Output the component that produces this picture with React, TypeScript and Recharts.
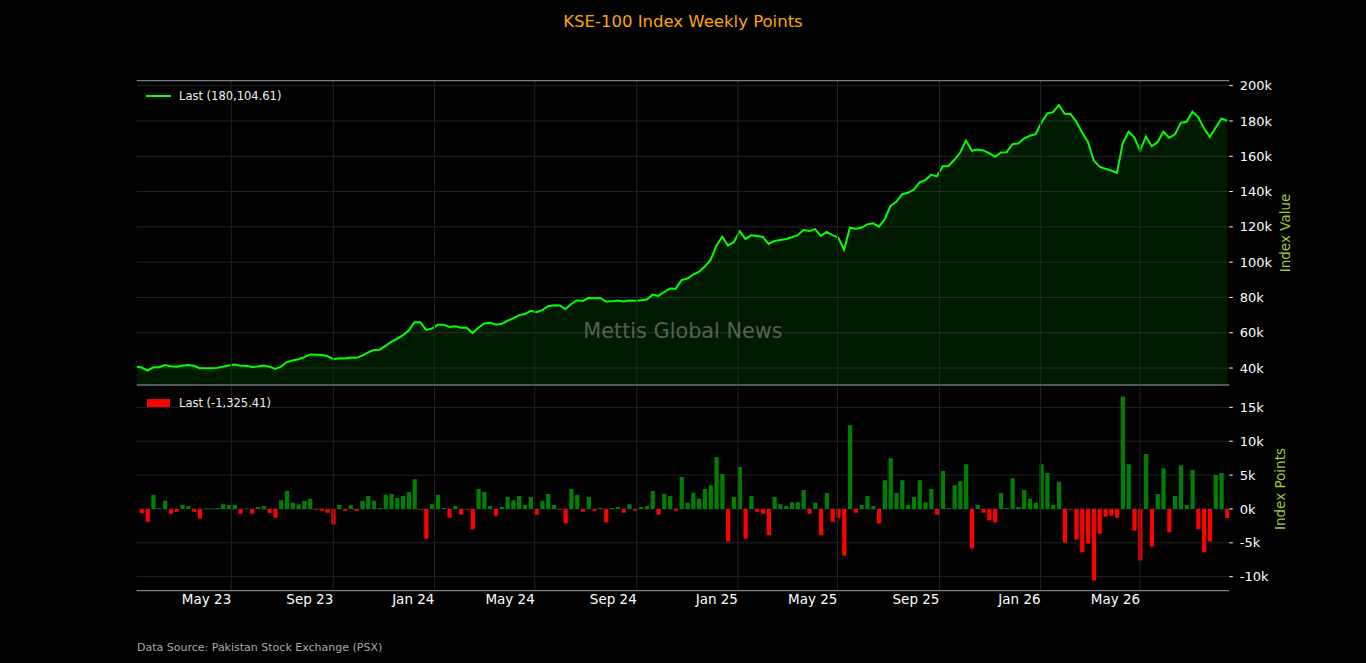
import React from 'react';
import {
  ComposedChart,
  Area,
  Bar,
  Cell,
  XAxis,
  YAxis,
  CartesianGrid,
  ReferenceLine,
} from 'recharts';

// Weekly KSE-100 close (thousands of points), one value per Friday from 6 Jan 2023
const closeK: number[] = [
  40.9, 40.3, 38.5, 40.4, 40.5, 41.7, 41.0, 40.7, 41.3, 41.7,
  41.3, 39.9, 39.9, 39.9, 40.1, 40.8, 41.4, 42.0, 41.3, 41.3,
  40.6, 40.9, 41.4, 40.8, 39.5, 40.8, 43.4, 44.3, 45.0, 46.2,
  47.7, 47.6, 47.4, 46.8, 45.0, 45.6, 45.4, 46.0, 45.8, 47.0,
  48.9, 50.2, 50.4, 52.6, 54.9, 56.6, 58.6, 61.3, 66.0, 65.9,
  61.6, 62.4, 64.5, 64.6, 63.3, 63.7, 62.9, 62.8, 59.8, 62.8,
  65.3, 65.7, 64.7, 65.0, 66.8, 68.1, 70.0, 70.6, 72.4, 71.6,
  72.8, 75.0, 75.6, 75.5, 73.4, 76.3, 78.4, 78.0, 79.8, 79.6,
  79.7, 77.7, 77.9, 78.2, 77.7, 78.3, 78.1, 78.4, 78.8, 81.6,
  80.9, 83.1, 85.1, 85.0, 89.8, 90.7, 93.0, 94.6, 97.5, 101.2,
  109.3, 114.4, 109.5, 111.3, 117.6, 113.2, 115.2, 114.8, 114.3, 110.3,
  112.0, 112.6, 113.1, 114.1, 115.3, 118.2, 117.6, 118.7, 114.9, 117.1,
  115.3, 114.0, 107.0, 119.5, 119.0, 119.6, 121.4, 122.0, 120.1, 124.3,
  131.8, 134.2, 138.5, 139.3, 141.1, 145.2, 146.5, 149.5, 148.6, 154.3,
  154.5, 158.0, 162.1, 168.9, 163.1, 163.8, 163.3, 161.7, 159.7, 162.1,
  162.3, 166.8, 167.2, 170.0, 171.6, 172.5, 179.1, 184.3, 185.0, 189.0,
  184.1, 184.0, 179.6, 173.4, 168.2, 157.7, 154.1, 152.9, 151.9, 150.6,
  167.3, 173.9, 170.7, 163.1, 171.2, 165.7, 167.9, 173.9, 170.5, 172.4,
  178.9, 179.5, 185.2, 182.2, 175.8, 171.0, 176.1, 181.4, 180.10461,
];

// Weekly change (thousands of points), from the second week onwards
const changeK: number[] = [
  -0.65, -1.9, 2.1, 0.1, 1.2, -0.7, -0.4, 0.6, 0.45, -0.4,
  -1.4, 0.05, 0.05, 0.15, 0.7, 0.6, 0.6, -0.7, 0.05, -0.7,
  0.3, 0.45, -0.6, -1.3, 1.3, 2.65, 0.9, 0.7, 1.2, 1.5,
  -0.1, -0.25, -0.55, -2.3, 0.6, -0.25, 0.6, -0.25, 1.2, 1.9,
  1.2, 0.15, 2.1, 2.2, 1.6, 1.9, 2.5, 4.4, -0.1, -4.4,
  0.7, 2.1, 0.15, -1.3, 0.45, -0.85, -0.1, -3.0, 2.95, 2.5,
  0.45, -1.0, 0.3, 1.75, 1.3, 1.9, 0.6, 1.75, -0.85, 1.2,
  2.2, 0.6, -0.1, -2.15, 2.95, 2.1, -0.4, 1.75, -0.25, 0.15,
  -2.0, 0.15, 0.3, -0.55, 0.7, -0.25, 0.3, 0.45, 2.65, -0.85,
  2.2, 1.9, -0.25, 4.7, 0.9, 2.35, 1.5, 2.95, 3.5, 7.65,
  5.15, -4.8, 1.75, 6.2, -4.4, 1.9, -0.4, -0.7, -3.9, 1.75,
  0.7, 0.45, 1.0, 1.0, 2.8, -0.7, 0.9, -3.9, 2.35, -1.9,
  -1.3, -6.9, 12.35, -0.55, 0.6, 1.9, 0.45, -2.15, 4.25, 7.5,
  2.35, 4.25, 0.6, 1.75, 4.25, 1.0, 2.95, -0.85, 5.6, 0.15,
  3.5, 4.1, 6.6, -5.85, 0.6, -0.55, -1.7, -2.0, 2.35, 0.15,
  4.55, 0.3, 2.8, 1.5, 0.9, 6.6, 5.3, 0.6, 4.0, -4.95,
  -0.1, -4.5, -6.4, -5.1, -10.55, -3.65, -1.15, -1.0, -1.3, 16.6,
  6.6, -3.2, -7.6, 8.1, -5.55, 2.2, 6.0, -3.45, 1.9, 6.45,
  0.6, 5.75, -3.0, -6.4, -4.8, 5.0, 5.3, -1.32541,
];

const tickMonths: [number, number][] = [
  [2023, 4], [2023, 8], [2024, 0], [2024, 4], [2024, 8],
  [2025, 0], [2025, 4], [2025, 8], [2026, 0], [2026, 4],
];
const tickLabels: string[] = [
  'May 23', 'Sep 23', 'Jan 24', 'May 24', 'Sep 24',
  'Jan 25', 'May 25', 'Sep 25', 'Jan 26', 'May 26',
];
const valueTicks: number[] = [40, 60, 80, 100, 120, 140, 160, 180, 200];
const pointTicks: number[] = [-10, -5, 0, 5, 10, 15];

const START_MS = Date.UTC(2023, 0, 6);
const WEEK_MS = 7 * 24 * 3600 * 1000;

const closeData = closeK.map((v, i) => ({ t: START_MS + i * WEEK_MS, close: v }));
const changeData = changeK.map((v, i) => ({ t: START_MS + (i + 1) * WEEK_MS, chg: v }));
const tickTimes = tickMonths.map(([y, m]) => Date.UTC(y, m, 1));

const X_DOMAIN: [number, number] = [START_MS + 0.14 * WEEK_MS, START_MS + 188.36 * WEEK_MS];
const TOP_DOMAIN: [number, number] = [30.4, 202.8];
const BOT_DOMAIN: [number, number] = [-12.07, 18.3];

const FONT = 'DejaVu Sans';
const SPINE = '#8899aa';
const GRID = '#222222';

const kFmt = (v: number) => `${v}k`;

const XTick = (props: any) => {
  const { x, y, payload } = props;
  const idx = tickTimes.indexOf(payload.value);
  return (
    <text x={x} y={y} dy="0.71em" textAnchor="end" fill="#ffffff" fontSize={13.5} fontFamily={FONT}>
      {idx >= 0 ? tickLabels[idx] : ''}
    </text>
  );
};

const lastClose = closeK[closeK.length - 1];
const lastChange = changeK[changeK.length - 1];
const fmt2 = (v: number) =>
  v.toLocaleString('en-US', { minimumFractionDigits: 2, maximumFractionDigits: 2 });

export default function App() {
  return (
    <div
      style={{
        position: 'absolute',
        left: 0,
        top: 0,
        width: 1366,
        height: 663,
        background: '#000000',
        overflow: 'hidden',
      }}
    >
      <div style={{ position: 'absolute', left: 0, top: 0 }}>
        <ComposedChart
          width={1366}
          height={385}
          data={closeData}
          margin={{ top: 80.7, right: 76.7, left: 136.7, bottom: 0 }}
        >
          <CartesianGrid stroke={GRID} vertical={false} />
          {tickTimes.map((t) => (
            <ReferenceLine key={t} x={t} stroke={GRID} />
          ))}
          <XAxis
            type="number"
            dataKey="t"
            domain={X_DOMAIN}
            allowDataOverflow
            ticks={tickTimes}
            hide
          />
          <YAxis
            orientation="right"
            type="number"
            domain={TOP_DOMAIN}
            allowDataOverflow
            ticks={valueTicks}
            tickFormatter={kFmt}
            width={60}
            axisLine={false}
            tickLine={{ stroke: '#ffffff' }}
            tickSize={3.5}
            tickMargin={7}
            tick={{ fill: '#ffffff', fontSize: 13, fontFamily: FONT }}
          />
          <Area
            type="linear"
            dataKey="close"
            stroke="#00ff00"
            strokeWidth={2}
            fill="#00ff00"
            fillOpacity={0.1}
            dot={false}
            activeDot={false}
            isAnimationActive={false}
          />
          <ReferenceLine y={TOP_DOMAIN[1]} stroke={SPINE} />
          <ReferenceLine y={TOP_DOMAIN[0]} stroke={SPINE} />
        </ComposedChart>
      </div>

      <div style={{ position: 'absolute', left: 0, top: 385 }}>
        <ComposedChart
          width={1366}
          height={278}
          data={changeData}
          margin={{ top: 0, right: 76.7, left: 136.7, bottom: 42.3 }}
        >
          <CartesianGrid stroke={GRID} vertical={false} />
          {tickTimes.map((t) => (
            <ReferenceLine key={t} x={t} stroke={GRID} />
          ))}
          <XAxis
            type="number"
            dataKey="t"
            domain={X_DOMAIN}
            allowDataOverflow
            ticks={tickTimes}
            interval={0}
            height={30}
            axisLine={{ stroke: SPINE }}
            tickLine={false}
            tickSize={0}
            tickMargin={4}
            tick={<XTick />}
          />
          <YAxis
            orientation="right"
            type="number"
            domain={BOT_DOMAIN}
            allowDataOverflow
            ticks={pointTicks}
            tickFormatter={kFmt}
            width={60}
            axisLine={false}
            tickLine={{ stroke: '#ffffff' }}
            tickSize={3.5}
            tickMargin={7}
            tick={{ fill: '#ffffff', fontSize: 13, fontFamily: FONT }}
          />
          <Bar dataKey="chg" barSize={4.2} isAnimationActive={false}>
            {changeData.map((d, i) => (
              <Cell key={i} fill={d.chg >= 0 ? '#008000' : '#ff0000'} />
            ))}
          </Bar>
          <ReferenceLine y={BOT_DOMAIN[1]} stroke={SPINE} />
        </ComposedChart>
      </div>

      <svg
        width={1366}
        height={663}
        style={{ position: 'absolute', left: 0, top: 0, pointerEvents: 'none' }}
        fontFamily={FONT}
      >
        <text x={683} y={21} textAnchor="middle" dominantBaseline="central" fill="#ffa500" fontSize={16.5}>
          KSE-100 Index Weekly Points
        </text>
        <text x={683} y={331} textAnchor="middle" dominantBaseline="central" fill="#8a948a" fillOpacity={0.6} fontSize={20.8}>
          Mettis Global News
        </text>
        <line x1={146} y1={96} x2={171} y2={96} stroke="#00ff00" strokeWidth={2} />
        <text x={179} y={96} dominantBaseline="central" fill="#eeeeee" fontSize={11.5}>
          {`Last (${fmt2(lastClose * 1000)})`}
        </text>
        <rect x={147} y={399} width={23} height={8} fill="#ff0000" />
        <text x={179} y={403} dominantBaseline="central" fill="#eeeeee" fontSize={11.5}>
          {`Last (${fmt2(lastChange * 1000)})`}
        </text>
        <text
          x={1285}
          y={233}
          textAnchor="middle"
          dominantBaseline="central"
          fill="#9acd32"
          fontSize={13.5}
          transform="rotate(-90 1285 233)"
        >
          Index Value
        </text>
        <text
          x={1280}
          y={489}
          textAnchor="middle"
          dominantBaseline="central"
          fill="#9acd32"
          fontSize={13.5}
          transform="rotate(-90 1280 489)"
        >
          Index Points
        </text>
        <text x={137} y={647} dominantBaseline="central" fill="#aaaaaa" fontSize={11}>
          Data Source: Pakistan Stock Exchange (PSX)
        </text>
      </svg>
    </div>
  );
}
